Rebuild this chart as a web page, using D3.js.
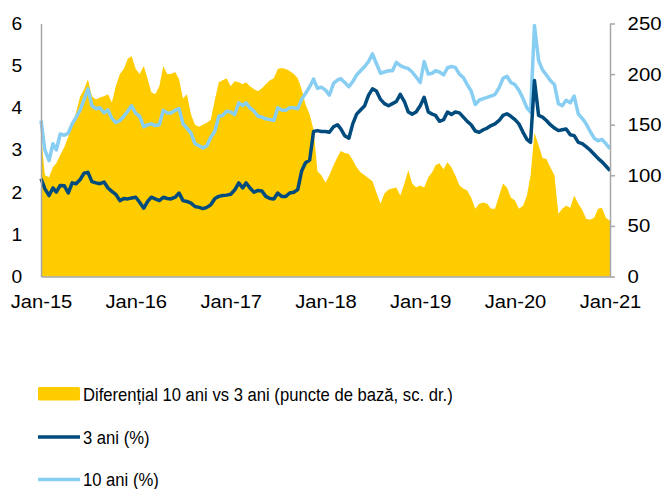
<!DOCTYPE html>
<html lang="ro">
<head>
<meta charset="utf-8">
<script src="https://d3js.org/d3.v7.min.js"></script>
<style>
body { margin: 0; background: #fff; }
svg text { font-family: "Liberation Sans", Arial, sans-serif; fill: #000; }
.axis path, .axis line { stroke: #a6a6a6; stroke-width: 1.5; }
.axis text { font-size: 18.5px; }
.legend text { font-size: 18.5px; }
</style>
</head>
<body>
<div id="chart"></div>
<script>
// semi-monthly observations, Jan 2015 .. Jan 2021 (1st and 16th of each month)
var dates = [];
d3.timeMonth.range(new Date(2015, 0, 1), new Date(2021, 0, 1)).forEach(function (m) {
    dates.push(m, new Date(m.getFullYear(), m.getMonth(), 16));
});
dates.push(new Date(2021, 0, 1));

// 10 ani (%)
var y10 = [
    3.70, 3.00, 2.75, 3.15, 3.00, 3.38, 3.35, 3.40, 3.62, 3.77, 3.95, 4.20, 4.45, 4.05, 3.98, 4.00, 3.88, 3.95, 3.75, 3.65, 3.70, 3.80, 3.92, 4.05,
    3.87, 3.80, 3.55, 3.60, 3.62, 3.58, 3.60, 3.94, 3.88, 3.88, 3.94, 3.98, 3.62, 3.52, 3.40, 3.15, 3.10, 3.05, 3.10, 3.30, 3.45, 3.80, 3.82, 3.92,
    3.90, 3.84, 4.12, 4.05, 4.12, 4.00, 3.92, 3.80, 3.78, 3.74, 3.72, 3.70, 4.00, 3.95, 3.94, 4.00, 4.00, 3.98, 4.20, 4.34, 4.50, 4.68, 4.46, 4.49,
    4.42, 4.30, 4.58, 4.66, 4.69, 4.60, 4.50, 4.62, 4.78, 4.88, 4.98, 5.10, 5.28, 5.05, 4.82, 4.85, 4.88, 4.88, 5.08, 5.00, 4.96, 4.93, 4.85, 4.73,
    4.60, 5.10, 4.80, 4.82, 4.88, 4.85, 4.78, 4.95, 4.98, 4.96, 4.80, 4.72, 4.55, 4.40, 4.08, 4.18, 4.22, 4.25, 4.28, 4.32, 4.48, 4.70, 4.75, 4.60,
    4.55, 4.42, 4.22, 4.00, 3.90, 5.95, 5.12, 4.90, 4.78, 4.65, 4.55, 4.10, 4.05, 4.18, 4.12, 4.28, 3.85, 3.75, 3.62, 3.45, 3.28, 3.22, 3.25, 3.15,
    3.03
];

// 3 ani (%)
var y3 = [
    2.32, 2.08, 1.92, 2.10, 2.00, 2.16, 2.15, 1.98, 2.22, 2.20, 2.30, 2.45, 2.47, 2.25, 2.22, 2.20, 2.24, 2.10, 2.02, 1.95, 1.80, 1.85, 1.84, 1.86,
    1.88, 1.76, 1.62, 1.78, 1.88, 1.84, 1.80, 1.88, 1.85, 1.84, 1.88, 1.98, 1.80, 1.78, 1.74, 1.66, 1.64, 1.61, 1.64, 1.70, 1.85, 1.90, 1.92, 1.93,
    1.95, 2.05, 2.22, 2.10, 2.22, 2.10, 2.00, 2.04, 2.03, 1.90, 1.85, 1.84, 1.98, 1.90, 1.90, 1.98, 2.00, 2.06, 2.50, 2.70, 2.76, 3.44, 3.46, 3.44,
    3.44, 3.42, 3.55, 3.60, 3.50, 3.34, 3.28, 3.62, 3.85, 3.95, 4.05, 4.30, 4.45, 4.40, 4.20, 4.10, 4.05, 4.10, 4.15, 4.32, 4.15, 3.90, 3.85, 3.90,
    4.05, 4.25, 3.90, 3.85, 3.82, 3.68, 3.72, 3.90, 3.84, 3.90, 3.88, 3.78, 3.68, 3.60, 3.45, 3.42, 3.48, 3.52, 3.58, 3.62, 3.70, 3.82, 3.86, 3.80,
    3.72, 3.62, 3.42, 3.25, 3.18, 4.65, 3.82, 3.78, 3.70, 3.60, 3.52, 3.46, 3.48, 3.50, 3.36, 3.34, 3.18, 3.15, 3.08, 3.00, 2.90, 2.80, 2.72, 2.62,
    2.51
];

// Diferential 10 ani vs 3 ani (puncte de baza, axa dreapta)
var spread = [
    140, 100, 98, 108, 112, 120, 128, 138, 150, 162, 178, 185, 195, 178, 175, 177, 178, 180, 172, 188, 200, 205, 215, 218,
    205, 200, 208, 195, 182, 180, 188, 208, 200, 200, 202, 195, 176, 180, 160, 150, 148, 150, 152, 155, 175, 192, 194, 196,
    188, 193, 192, 190, 192, 188, 185, 183, 186, 190, 194, 196, 205, 206, 205, 203, 200, 196, 185, 170, 160, 145, 104, 100,
    93, 100, 110, 118, 124, 122, 121, 115, 108, 103, 100, 97, 94, 83, 72, 82, 86, 87, 88, 80, 92, 105, 92, 88,
    90, 88, 98, 103, 110, 112, 106, 113, 108, 100, 90, 87, 85, 78, 67, 72, 73, 72, 67, 67, 80, 92, 88, 78,
    75, 67, 70, 80, 100, 142, 130, 117, 116, 108, 100, 62, 67, 70, 68, 80, 72, 66, 57, 56, 58, 67, 68, 58,
    55
];

var xTicks = [2015, 2016, 2017, 2018, 2019, 2020, 2021];
var yLeftTicks = [0, 1, 2, 3, 4, 5, 6];
var yRightTicks = [0, 50, 100, 150, 200, 250];
var legendLabels = ["Diferențial 10 ani vs 3 ani (puncte de bază, sc. dr.)", "3 ani (%)", "10 ani (%)"];

var width = 666, height = 489;
var plotLeft = 41, plotRight = 610, plotTop = 23.5, plotBottom = 276.5;
var yellow = "#ffcc00", dark = "#004b7d", light = "#87cef2";

var x = d3.scaleTime()
    .domain([new Date(2015, 0, 1), new Date(2021, 0, 1)])
    .range([plotLeft, plotRight]);
var yL = d3.scaleLinear().domain([0, 6]).range([plotBottom, plotTop]);
var yR = d3.scaleLinear().domain([0, 250]).range([plotBottom, plotTop]);

var svg = d3.select("#chart").append("svg")
    .attr("width", width)
    .attr("height", height);

var rows = dates.map(function (d, i) {
    return {date: d, y10: y10[i], y3: y3[i], spread: spread[i]};
});

svg.append("path")
    .datum(rows)
    .attr("fill", yellow)
    .attr("d", d3.area()
        .x(function (d) { return x(d.date); })
        .y0(yR(0))
        .y1(function (d) { return yR(d.spread); }));

function line(key) {
    return d3.line()
        .x(function (d) { return x(d.date); })
        .y(function (d) { return yL(d[key]); });
}

svg.append("path")
    .datum(rows)
    .attr("fill", "none")
    .attr("stroke", light)
    .attr("stroke-width", 3.5)
    .attr("stroke-linejoin", "round")
    .attr("d", line("y10"));

svg.append("path")
    .datum(rows)
    .attr("fill", "none")
    .attr("stroke", dark)
    .attr("stroke-width", 3.5)
    .attr("stroke-linejoin", "round")
    .attr("d", line("y3"));

// axes
svg.append("g")
    .attr("class", "axis")
    .attr("transform", "translate(" + plotLeft + ",0)")
    .call(d3.axisLeft(yL).tickValues(yLeftTicks).tickFormat(d3.format("d")).tickSize(0).tickPadding(18))
    .call(function (g) { g.selectAll("text").attr("transform", "scale(1.04,1)"); });

svg.append("g")
    .attr("class", "axis")
    .attr("transform", "translate(" + plotRight + ",0)")
    .call(d3.axisRight(yR).tickValues(yRightTicks).tickFormat(d3.format("d")).tickSize(5).tickSizeOuter(0).tickPadding(13))
    .call(function (g) { g.selectAll("text").attr("transform", "scale(1.1,1)").attr("x", 16); });

svg.append("g")
    .attr("class", "axis")
    .attr("transform", "translate(0," + plotBottom + ")")
    .call(d3.axisBottom(x)
        .tickValues(xTicks.map(function (yr) { return new Date(yr, 0, 1); }))
        .tickFormat(d3.timeFormat("Jan-%y"))
        .tickSize(0)
        .tickPadding(18))
    .call(function (g) { g.selectAll("text").attr("transform", "scale(1.09,1)"); });

// legend
var legend = svg.append("g").attr("class", "legend");

legend.append("rect")
    .attr("x", 38).attr("y", 387)
    .attr("width", 42).attr("height", 13.5)
    .attr("rx", 1.5)
    .attr("fill", yellow);
legend.append("line")
    .attr("x1", 38).attr("x2", 80)
    .attr("y1", 437).attr("y2", 437)
    .attr("stroke", dark).attr("stroke-width", 3.5);
legend.append("line")
    .attr("x1", 38).attr("x2", 80)
    .attr("y1", 479.5).attr("y2", 479.5)
    .attr("stroke", light).attr("stroke-width", 3.5);

var legendY = [401, 444, 486];
legend.selectAll("text")
    .data(legendLabels)
    .enter()
    .append("text")
    .attr("transform", function (d, i) { return "translate(83," + legendY[i] + ") scale(0.9,1)"; })
    .text(function (d) { return d; });
</script>
</body>
</html>
